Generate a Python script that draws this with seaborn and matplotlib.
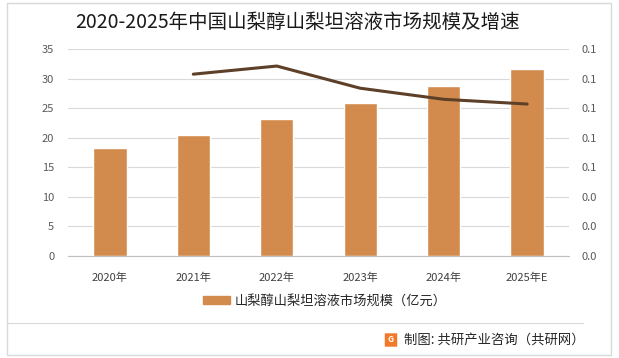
import pandas as pd
import matplotlib
matplotlib.use('Agg')
import matplotlib.pyplot as plt
import seaborn as sns
from matplotlib.patches import Rectangle, FancyBboxPatch
from matplotlib.lines import Line2D

# dados
anos = ['2020年', '2021年', '2022年', '2023年', '2024年', '2025年E']
mercado = [18.3, 20.5, 23.2, 25.9, 28.7, 31.6]
anos_taxa = ['2021年', '2022年', '2023年', '2024年', '2025年E']
taxa = [0.123, 0.1285, 0.1135, 0.106, 0.1028]
ticks_esq = [0, 5, 10, 15, 20, 25, 30, 35]
ticks_dir = [0.0, 0.02, 0.04, 0.06, 0.08, 0.10, 0.12, 0.14]

cor_barra = '#D38B4D'
cor_linha = '#5E4029'
cinza = '#595959'

sns.set_style('white')
plt.rcParams['font.family'] = ['Noto Sans CJK SC', 'DejaVu Sans']

fig = plt.figure(figsize=(6.19, 3.58), dpi=100)
ax = fig.add_axes([0.11, 0.285, 0.809, 0.578])

df = pd.DataFrame({'ano': anos, 'valor': mercado})
sns.barplot(data=df, x='ano', y='valor', color=cor_barra, width=0.4,
            saturation=1, ax=ax)
ax.set_xlim(-0.5, len(anos) - 0.5)
ax.set_ylim(0, 35)
ax.set_yticks(ticks_esq)
ax.yaxis.grid(True, color='#D9D9D9', lw=0.8)
ax.set_axisbelow(True)
ax.set_xlabel('')
ax.set_ylabel('')
for s in ['top', 'right', 'left']:
    ax.spines[s].set_visible(False)
ax.spines['bottom'].set_color('#BFBFBF')
ax.tick_params(axis='y', length=0, labelsize=8, labelcolor=cinza, pad=10)
ax.tick_params(axis='x', which='major', length=0, labelsize=8, labelcolor='#404040', pad=12)
ax.set_xticks([i + 0.5 for i in range(-1, len(anos))], minor=True)
ax.tick_params(axis='x', which='minor', length=4, color='#BFBFBF')

# eixo secundario com a taxa de crescimento
ax2 = ax.twinx()
df2 = pd.DataFrame({'pos': [anos.index(a) for a in anos_taxa], 'taxa': taxa})
sns.lineplot(data=df2, x='pos', y='taxa', color=cor_linha, lw=2.2, ax=ax2)
ax2.set_ylim(0, 0.14)
ax2.set_yticks(ticks_dir)
ax2.set_yticklabels([f'{t:.1f}' for t in ticks_dir])
ax2.tick_params(axis='y', length=0, labelsize=8, labelcolor=cinza, pad=9)
ax2.set_ylabel('')
for s in ax2.spines.values():
    s.set_visible(False)
ax.set_xlim(-0.5, len(anos) - 0.5)

fig.text(0.48, 0.938, '2020-2025年中国山梨醇山梨坦溶液市场规模及增速',
         ha='center', va='center', fontsize=14, color='#1a1a1a')

handle = Rectangle((0, 0), 1, 1, color=cor_barra)
fig.legend([handle], ['山梨醇山梨坦溶液市场规模（亿元）'], loc='center',
           bbox_to_anchor=(0.525, 0.159), frameon=False, fontsize=9.5,
           handlelength=2.0, handleheight=0.55, handletextpad=0.4,
           labelcolor='#262626')

# moldura, separador e rodape
fig.add_artist(Rectangle((7 / 619, 3 / 358), 604 / 619, 352 / 358, transform=fig.transFigure,
                         fill=False, ec='#D9D9D9', lw=1))
fig.add_artist(Line2D([7 / 619, 583 / 619], [1 - 323 / 358] * 2, color='#D9D9D9', lw=0.8))
fig.add_artist(FancyBboxPatch((386 / 619, 1 - 346 / 358), 10 / 619, 12 / 358,
                              boxstyle='round,pad=0.002', fc='#F07A2A', ec='none',
                              transform=fig.transFigure))
fig.text(391 / 619, 1 - 340 / 358, 'G', ha='center', va='center', fontsize=6,
         color='white', fontweight='bold')
fig.text(585 / 619, 1 - 340 / 358, '制图: 共研产业咨询（共研网）', ha='right', va='center',
         fontsize=9.6, color='#262626')

fig.savefig('out.png', dpi=100)
